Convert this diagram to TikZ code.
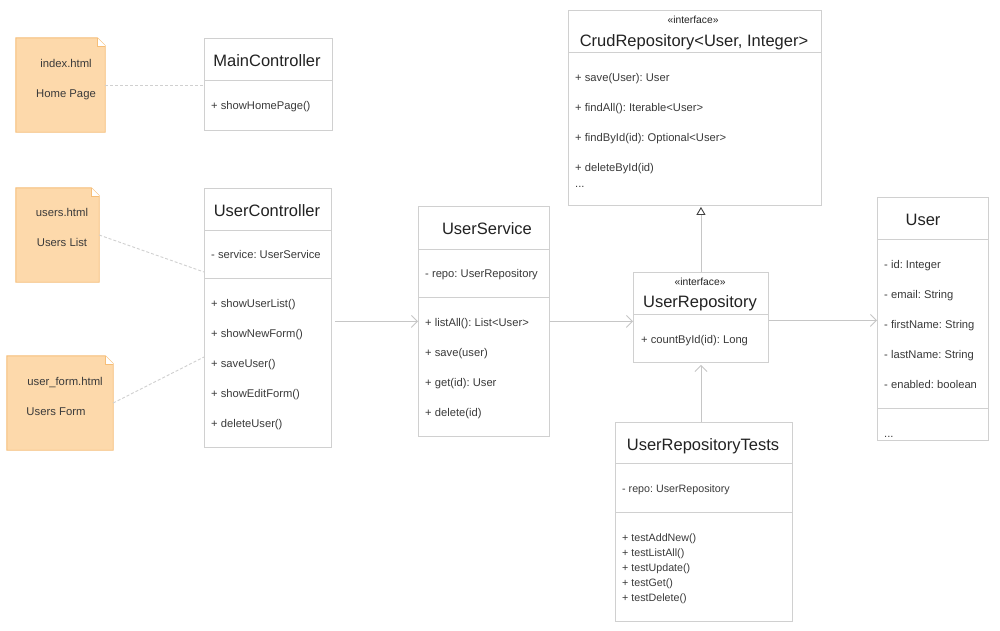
\documentclass[tikz,border=0pt]{standalone}
\usepackage{fontspec}
\setmainfont{Liberation Sans}
\usetikzlibrary{calc,arrows.meta}
\definecolor{notefill}{RGB}{253,217,171}
\definecolor{noteline}{RGB}{246,190,120}
\definecolor{boxline}{RGB}{208,208,208}
\definecolor{wireline}{RGB}{198,198,198}
\definecolor{txt}{RGB}{58,58,58}
\definecolor{ttl}{RGB}{34,34,34}
\frenchspacing
\tikzset{
  classbox/.style={draw=boxline, line width=0.9pt, fill=white, anchor=north west, inner sep=0pt},
  sepline/.style={draw=boxline, line width=0.9pt},
  notebody/.style={inner sep=0pt},
  member/.style={anchor=west, inner sep=0pt, text height=8pt, text depth=0pt, text=txt, font=\fontsize{11.2}{13}\selectfont},
  small/.style={anchor=west, inner sep=0pt, text height=8pt, text depth=0pt, text=txt, font=\fontsize{10.7}{12}\selectfont},
  ttlnode/.style={inner sep=0pt, text height=12pt, text depth=0pt, text=ttl, font=\fontsize{16.5}{19}\selectfont},
  stereo/.style={inner sep=0pt, text height=7.5pt, text depth=0pt, text=ttl, font=\fontsize{10.3}{12}\selectfont},
  notetext/.style={inner sep=0pt, text height=8pt, text depth=0pt, text=txt, font=\fontsize{11.3}{13}\selectfont},
  assoc/.style={draw=wireline, line width=0.9pt, -{Straight Barb[length=6pt,width=12pt]}},
  generalize/.style={draw=wireline, line width=0.9pt, -{Triangle[open, length=8pt, width=9pt, color=black!75]}},
  notelink/.style={draw=boxline, line width=0.9pt, dash pattern=on 3pt off 2pt},
}
\newcommand{\notepaper}[1]{%
  \path[fill=notefill, draw=noteline, line width=0.9pt]
    (#1.north west) -- ($(#1.north east)+(-8,0)$) -- ($(#1.north east)+(0,8)$)
    -- (#1.south east) -- (#1.south west) -- cycle;
  \draw[draw=noteline, line width=0.6pt, fill=white]
    ($(#1.north east)+(-8,0)$) -- ($(#1.north east)+(-8,8)$) -- ($(#1.north east)+(0,8)$);
}
\begin{document}
\begin{tikzpicture}[x=1pt,y=-1pt]
\useasboundingbox[fill=white] (0,0) rectangle (1000,630);

% ---------- notes (view templates) ----------
\node[notebody, minimum width=89pt, minimum height=94pt] (nIndex) at (60.5,85) {};
\node[notebody, minimum width=83pt, minimum height=94pt] (nUsers) at (57.5,235) {};
\node[notebody, minimum width=106pt, minimum height=94pt] (nForm) at (60,403) {};
\notepaper{nIndex}
\notepaper{nUsers}
\notepaper{nForm}
\node[notetext] (tIndexA) at (66,63) {index.html};
\node[notetext] (tIndexB) at (66,93) {Home Page};
\node[notetext] (tUsersA) at (62,212) {users.html};
\node[notetext] (tUsersB) at (62,242) {Users List};
\node[notetext] (tFormA) at (65,381) {user\_form.html};
\node[notetext] (tFormB) at (56,411) {Users Form};

% ---------- MainController ----------
\node[classbox, minimum width=128pt, minimum height=92pt] (mc) at (204,38) {};
\draw[sepline] (mc.west |- 0,80) -- (mc.east |- 0,80);
\node[ttlnode] (mcT) at (267,60) {MainController};
\node[member] (mcM1) at (211,105) {+ showHomePage()};

% ---------- UserController ----------
\node[classbox, minimum width=127pt, minimum height=259pt] (uc) at (204,188) {};
\draw[sepline] (uc.west |- 0,230) -- (uc.east |- 0,230);
\draw[sepline] (uc.west |- 0,278) -- (uc.east |- 0,278);
\node[ttlnode] (ucT) at (267,210) {UserController};
\node[member] (ucF1) at (211,254) {- service: UserService};
\node[member] (ucM1) at (211,303) {+ showUserList()};
\node[member] (ucM2) at (211,333) {+ showNewForm()};
\node[member] (ucM3) at (211,363) {+ saveUser()};
\node[member] (ucM4) at (211,393) {+ showEditForm()};
\node[member] (ucM5) at (211,423) {+ deleteUser()};

% ---------- UserService ----------
\node[classbox, minimum width=131pt, minimum height=230pt] (us) at (418,206) {};
\draw[sepline] (us.west |- 0,249) -- (us.east |- 0,249);
\draw[sepline] (us.west |- 0,297) -- (us.east |- 0,297);
\node[ttlnode] (usT) at (487,228) {UserService};
\node[member] (usF1) at (425,273) {- repo: UserRepository};
\node[member] (usM1) at (425,322) {+ listAll(): List<User>};
\node[member] (usM2) at (425,352) {+ save(user)};
\node[member] (usM3) at (425,382) {+ get(id): User};
\node[member] (usM4) at (425,412) {+ delete(id)};

% ---------- CrudRepository ----------
\node[classbox, minimum width=253pt, minimum height=195pt] (crud) at (568,10) {};
\draw[sepline] (crud.west |- 0,52) -- (crud.east |- 0,52);
\node[stereo] (crudS) at (693,20) {«interface»};
\node[ttlnode] (crudT) at (694,40) {CrudRepository<User, Integer>};
\node[member] (crudM1) at (575,77) {+ save(User): User};
\node[member] (crudM2) at (575,107) {+ findAll(): Iterable<User>};
\node[member] (crudM3) at (575,137) {+ findById(id): Optional<User>};
\node[member] (crudM4) at (575,167) {+ deleteById(id)};
\node[member] (crudM5) at (575,183) {...};

% ---------- UserRepository ----------
\node[classbox, minimum width=135pt, minimum height=90pt] (ur) at (633,272) {};
\draw[sepline] (ur.west |- 0,314) -- (ur.east |- 0,314);
\node[stereo] (urS) at (700,282) {«interface»};
\node[ttlnode] (urT) at (700,301) {UserRepository};
\node[member] (urM1) at (641,339) {+ countById(id): Long};

% ---------- UserRepositoryTests ----------
\node[classbox, minimum width=177pt, minimum height=199pt] (tests) at (615,422) {};
\draw[sepline] (tests.west |- 0,463) -- (tests.east |- 0,463);
\draw[sepline] (tests.west |- 0,512) -- (tests.east |- 0,512);
\node[ttlnode] (testsT) at (703,444) {UserRepositoryTests};
\node[small] (testsF1) at (622,488) {- repo: UserRepository};
\node[small] (testsM1) at (622,537) {+ testAddNew()};
\node[small] (testsM2) at (622,552) {+ testListAll()};
\node[small] (testsM3) at (622,567) {+ testUpdate()};
\node[small] (testsM4) at (622,582) {+ testGet()};
\node[small] (testsM5) at (622,597) {+ testDelete()};

% ---------- User ----------
\node[classbox, minimum width=111pt, minimum height=243pt] (user) at (877,197) {};
\draw[sepline] (user.west |- 0,239) -- (user.east |- 0,239);
\draw[sepline] (user.west |- 0,408) -- (user.east |- 0,408);
\node[ttlnode] (userT) at (923,219) {User};
\node[member] (userF1) at (884,264) {- id: Integer};
\node[member] (userF2) at (884,294) {- email: String};
\node[member] (userF3) at (884,324) {- firstName: String};
\node[member] (userF4) at (884,354) {- lastName: String};
\node[member] (userF5) at (884,384) {- enabled: boolean};
\node[member] (userF6) at (884,433) {...};

% ---------- template links ----------
\draw[notelink] (nIndex.east) -- (nIndex.east -| mc.west);
\coordinate (ucListIn) at ($(uc.north west)+(0,84)$);
\coordinate (ucFormIn) at ($(uc.north west)+(0,169)$);
\draw[notelink] (nUsers.east) -- (ucListIn);
\draw[notelink] (nForm.east) -- (ucFormIn);

% ---------- dependencies ----------
\coordinate (urOut) at ($(ur.east)+(0,3)$);
\draw[assoc, shorten <=3pt] (uc.east |- us.west) -- (us.west);
\draw[assoc] (us.east) -- (us.east -| ur.west);
\draw[assoc] (urOut) -- (urOut -| user.west);
\draw[assoc, shorten >=2pt] (ur.south |- tests.north) -- (ur.south);
\draw[generalize, shorten >=1pt] (ur.north) -- (ur.north |- crud.south);
\end{tikzpicture}
\end{document}
